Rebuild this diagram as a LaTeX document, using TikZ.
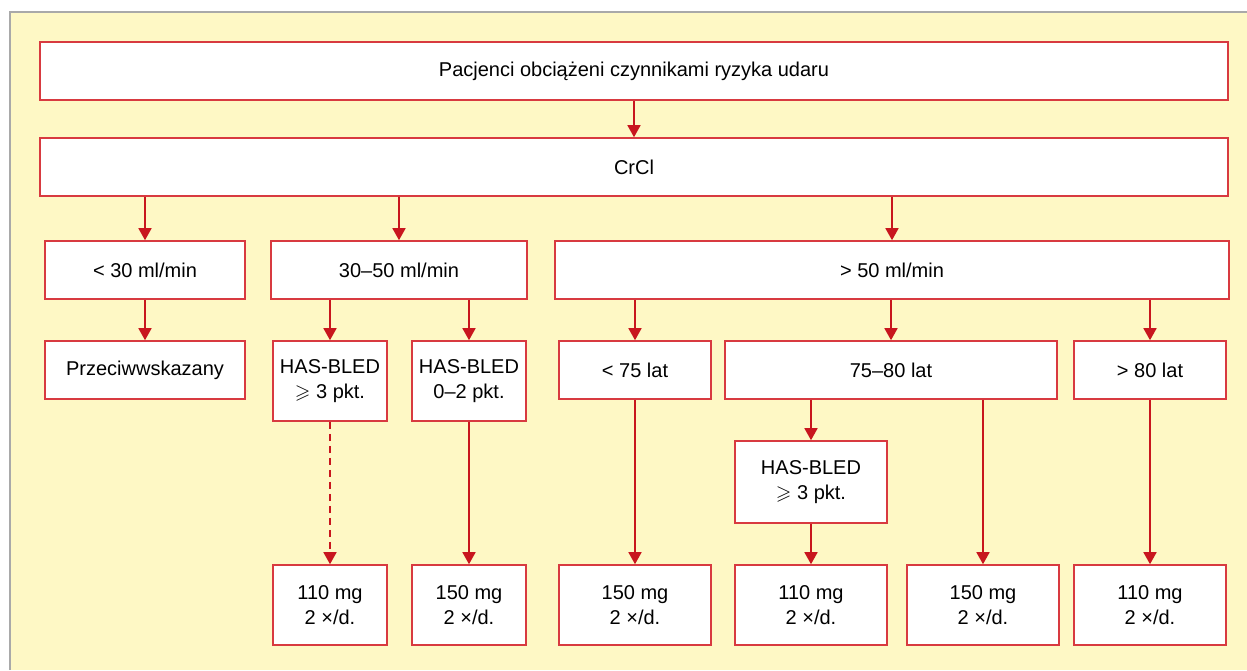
\documentclass[tikz,border=0pt]{standalone}
\usepackage{amssymb}
\usepackage{fontspec}
\setmainfont{Liberation Sans}
\usetikzlibrary{arrows.meta,positioning,calc}
\definecolor{bgYellow}{HTML}{FEF8C5}
\definecolor{frameGrey}{HTML}{A9A9A9}
\definecolor{boxRed}{HTML}{D83A40}
\definecolor{arrRed}{HTML}{C8161E}

\begin{document}
\begin{tikzpicture}[x=1pt,y=-1pt,font=\fontsize{20}{25}\selectfont,
  box/.style={draw=boxRed,fill=white,line width=1.6pt,align=center,inner sep=2pt,minimum height=58pt},
  tall/.style={box,minimum height=80pt},
  arr/.style={draw=arrRed,line width=1.6pt,-{Triangle[width=13pt,length=12pt]}}]
  \useasboundingbox (0,0) rectangle (1247,670);
  \fill[bgYellow] (10,12) rectangle (1247,670);
  \draw[frameGrey,line width=2pt] (10,670) -- (10,12) -- (1247,12);
  \node[box,minimum width=1188pt] (risk) at (634,71)  {Pacjenci obciążeni czynnikami ryzyka udaru};
  \node[box,minimum width=1188pt] (crcl) at (634,167) {CrCl};
  \node[box,minimum width=200pt] (lt30)   at (145,270) {< 30 ml/min};
  \node[box,minimum width=256pt] (mid)    at (399,270)   {30--50 ml/min};
  \node[box,minimum width=674pt] (gt50)   at (892,270) {> 50 ml/min};
  \node[box,minimum width=200pt] (contra) at (145,370) {Przeciwwskazany};
  \node[tall,minimum width=114pt] (hbHigh) at (330,381)  {HAS-BLED\\ $\geqslant$ 3 pkt.};
  \node[tall,minimum width=114pt] (hbLow)  at (469,381)  {HAS-BLED\\ 0--2 pkt.};
  \node[box,minimum width=152pt] (lt75)   at (635,370) {< 75 lat};
  \node[box,minimum width=332pt] (age)    at (891,370)   {75--80 lat};
  \node[box,minimum width=152pt] (gt80)   at (1150,370) {> 80 lat};
  \node[tall,minimum width=152pt,minimum height=82pt] (hbAge) at (811,482) {HAS-BLED\\ $\geqslant$ 3 pkt.};
  \node[tall,minimum width=114pt] (doseA) at (330,605)    {110 mg\\ 2 ×/d.};
  \node[tall,minimum width=114pt] (doseB) at (469,605)    {150 mg\\ 2 ×/d.};
  \node[tall,minimum width=152pt] (doseC) at (635,605)  {150 mg\\ 2 ×/d.};
  \node[tall,minimum width=152pt] (doseD) at (811,605)    {110 mg\\ 2 ×/d.};
  \node[tall,minimum width=152pt] (doseE) at (983,605)    {150 mg\\ 2 ×/d.};
  \node[tall,minimum width=152pt] (doseF) at (1150,605)   {110 mg\\ 2 ×/d.};
  \draw[arr] (risk) -- (crcl);
  \draw[arr] (crcl.south -| lt30.north) -- (lt30.north);
  \draw[arr] (crcl.south -| mid.north) -- (mid.north);
  \draw[arr] (crcl.south -| gt50.north) -- (gt50.north);
  \draw[arr] (lt30) -- (contra);
  \draw[arr] (mid.south -| hbHigh.north) -- (hbHigh.north);
  \draw[arr] (mid.south -| hbLow.north) -- (hbLow.north);
  \draw[arr] (gt50.south -| lt75.north) -- (lt75.north);
  \draw[arr] (gt50.south -| age.north) -- (age.north);
  \draw[arr] (gt50.south -| gt80.north) -- (gt80.north);
  \draw[arr,dashed,dash pattern=on 7pt off 5pt] (hbHigh) -- (doseA);
  \draw[arr] (hbLow) -- (doseB);
  \draw[arr] (lt75) -- (doseC);
  \draw[arr] (age.south -| hbAge.north) -- (hbAge.north);
  \draw[arr] (hbAge) -- (doseD);
  \draw[arr] (age.south -| doseE.north) -- (doseE.north);
  \draw[arr] (gt80) -- (doseF);
\end{tikzpicture}
\end{document}
